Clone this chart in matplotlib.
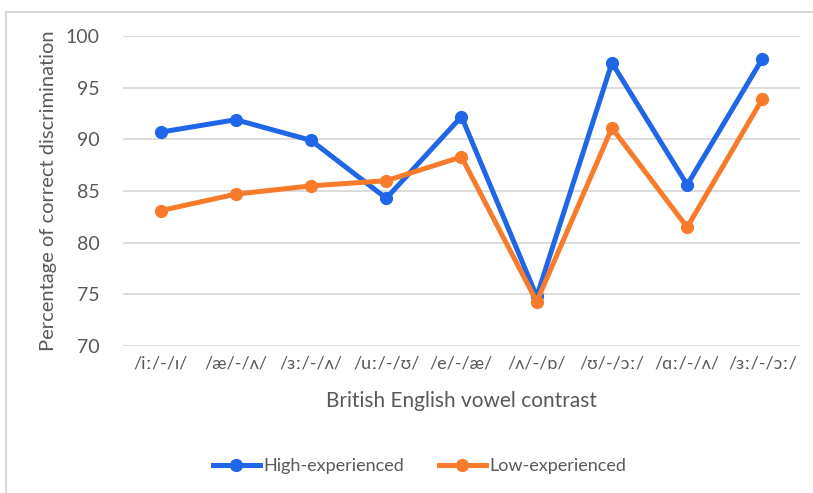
import matplotlib
matplotlib.use("Agg")
import matplotlib.pyplot as plt
from matplotlib.lines import Line2D

plt.rcParams['font.family'] = ['Lato', 'DejaVu Sans']

contrasts = ["/iː/-/ɪ/", "/æ/-/ʌ/", "/ɜː/-/ʌ/", "/uː/-/ʊ/", "/e/-/æ/",
             "/ʌ/-/ɒ/", "/ʊ/-/ɔː/", "/ɑː/-/ʌ/", "/ɜː/-/ɔː/"]
high_exp = [90.7, 91.9, 89.9, 84.3, 92.2, 74.8, 97.4, 85.6, 97.8]
low_exp = [83.1, 84.7, 85.5, 86.0, 88.3, 74.3, 91.1, 81.5, 93.9]
yticks = [70, 75, 80, 85, 90, 95, 100]

blue = '#1f67e6'
orange = '#f77b2a'
grey_text = '#595959'
grid_col = '#d9d9d9'

fig = plt.figure(figsize=(8.13, 4.93), dpi=100)
ax = fig.add_axes([0.1513, 0.298, 0.8327, 0.629])

x = range(len(contrasts))
ax.plot(x, high_exp, color=blue, lw=3.6, marker='o', ms=8.5, label='High-experienced', zorder=3)
ax.plot(x, low_exp, color=orange, lw=3.6, marker='o', ms=8.5, label='Low-experienced', zorder=3)

ax.set_xlim(-0.5, len(contrasts) - 0.5)
ax.set_ylim(70, 100)
ax.set_yticks(yticks)
ax.set_yticklabels([str(v) for v in yticks])
ax.set_xticks(list(x))
ax.set_xticklabels(contrasts)
ax.yaxis.grid(True, color=grid_col, lw=1.3)
ax.set_axisbelow(True)
for s in ax.spines.values():
    s.set_visible(False)
ax.tick_params(axis='both', length=0, colors=grey_text)
ax.tick_params(axis='y', pad=17, labelsize=14)
ax.tick_params(axis='x', pad=7, labelsize=13)

ax.set_xlabel('British English vowel contrast', fontsize=15, color=grey_text, labelpad=14)
ax.set_ylabel('Percentage of correct discrimination', fontsize=14.5, color=grey_text, labelpad=6)

leg = fig.legend(loc='center', bbox_to_anchor=(0.516, 1 - 466 / 493), ncol=2, frameon=False,
                 fontsize=13, handlelength=2.6, columnspacing=1.9, handletextpad=0.2)
for t in leg.get_texts():
    t.set_color(grey_text)

# chart frame (left and top edges visible)
fig.add_artist(Line2D([6 / 813, 6 / 813], [0, 1 - 12 / 493], transform=fig.transFigure, color=grid_col, lw=1.5))
fig.add_artist(Line2D([6 / 813, 1], [1 - 12 / 493, 1 - 12 / 493], transform=fig.transFigure, color=grid_col, lw=1.5))

fig.savefig('out.png', dpi=100)
